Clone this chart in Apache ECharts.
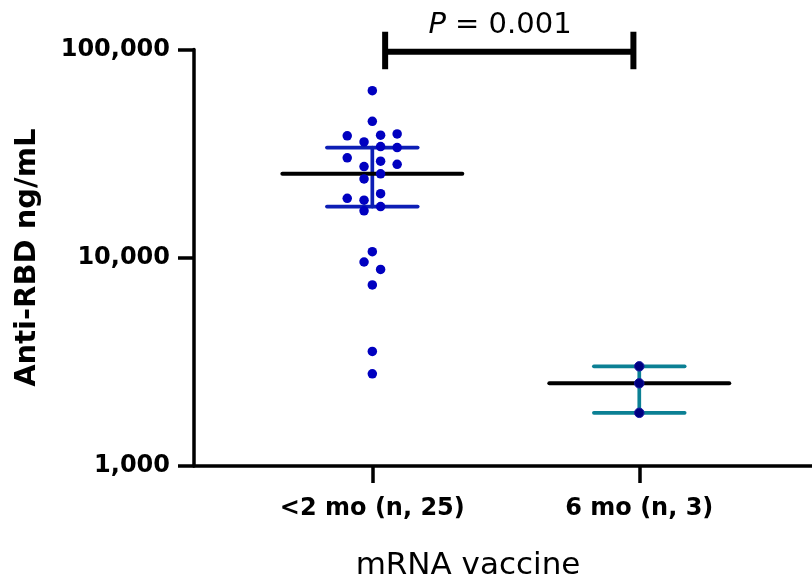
<!DOCTYPE html>
<html>
<head>
<meta charset="utf-8">
<script src="https://cdn.jsdelivr.net/npm/echarts@6/dist/echarts.min.js"></script>
<style>
html,body{margin:0;padding:0;background:#fff;}
#chart{width:812px;height:587px;}
</style>
</head>
<body>
<div id="chart"></div>
<script>
// ---- data ----
const categories = ['<2 mo (n, 25)', '6 mo (n, 3)'];
const categoryPos = [1, 2];
const yTicks = [1000, 10000, 100000];

// group 1: jittered x position (category units) and value
const group1X = [1.000, 1.000, 0.906, 1.031, 1.093, 0.969, 1.031, 1.093, 0.906, 1.031,
                 0.969, 1.093, 1.031, 0.969, 1.031, 0.906, 0.969, 1.031, 0.969, 1.000,
                 0.969, 1.031, 1.000, 1.000, 1.000];
const group1Y = [63400, 45200, 38500, 38800, 39300, 36000, 34200, 33800, 30200, 29100,
                 27400, 28100, 25300, 23900, 20300, 19300, 18900, 17600, 16800, 10700,
                 9540, 8790, 7400, 3550, 2770];
const group2X = [2.000, 2.000, 2.000];
const group2Y = [3010, 2495, 1800];

// summary statistics: centre, mean, lower, upper
const summaryCentre = [1, 2];
const summaryMean = [25300, 2495];
const summaryLower = [17600, 1800];
const summaryUpper = [33800, 3010];

// significance bracket
const bracketX = [1.048, 1.978];
const bracketY = 97600;
const bracketCapLow = 80400;
const bracketCapHigh = 121700;
const pText = 'P = 0.001';

// ---- chart ----
const FONT = 'DejaVu Sans';
const barColors = ['#0d1eb5', '#0b8094'];

const chart = echarts.init(document.getElementById('chart'), null, {renderer: 'canvas'});

const summaryData = summaryCentre.map((c, i) => [c, summaryMean[i], summaryLower[i], summaryUpper[i], i]);

function renderSummary(params, api) {
  const x = api.value(0), m = api.value(1), lo = api.value(2), hi = api.value(3);
  const idx = api.value(4);
  const col = barColors[idx];
  const capHW = 0.17, meanHW = 0.337;
  const pLo = api.coord([x, lo]), pHi = api.coord([x, hi]);
  const cL1 = api.coord([x - capHW, lo]), cR1 = api.coord([x + capHW, lo]);
  const cL2 = api.coord([x - capHW, hi]), cR2 = api.coord([x + capHW, hi]);
  const mL = api.coord([x - meanHW, m]), mR = api.coord([x + meanHW, m]);
  const st = {stroke: col, lineWidth: 3.7, lineCap: 'round'};
  return {
    type: 'group',
    children: [
      {type: 'line', shape: {x1: pLo[0], y1: pLo[1], x2: pHi[0], y2: pHi[1]}, style: st},
      {type: 'line', shape: {x1: cL1[0], y1: cL1[1], x2: cR1[0], y2: cR1[1]}, style: st},
      {type: 'line', shape: {x1: cL2[0], y1: cL2[1], x2: cR2[0], y2: cR2[1]}, style: st},
      {type: 'line', shape: {x1: mL[0], y1: mL[1], x2: mR[0], y2: mR[1]},
       style: {stroke: '#000', lineWidth: 4, lineCap: 'round'}}
    ]
  };
}

function renderBracket(params, api) {
  const a = api.coord([bracketX[0], bracketY]);
  const b = api.coord([bracketX[1], bracketY]);
  const aT = api.coord([bracketX[0], bracketCapHigh]), aB = api.coord([bracketX[0], bracketCapLow]);
  const bT = api.coord([bracketX[1], bracketCapHigh]), bB = api.coord([bracketX[1], bracketCapLow]);
  const st = {stroke: '#000', lineWidth: 6, lineCap: 'butt'};
  return {
    type: 'group',
    children: [
      {type: 'line', shape: {x1: a[0], y1: a[1], x2: b[0], y2: b[1]}, style: st},
      {type: 'line', shape: {x1: aT[0], y1: aT[1], x2: aB[0], y2: aB[1]}, style: st},
      {type: 'line', shape: {x1: bT[0], y1: bT[1], x2: bB[0], y2: bB[1]}, style: st}
    ]
  };
}

const option = {
  backgroundColor: '#fff',
  animation: false,
  grid: {left: 194, right: 0, top: 49.5, bottom: 121, containLabel: false},
  xAxis: {
    type: 'value',
    min: 0.332,
    max: 2.647,
    splitLine: {show: false},
    axisLine: {show: true, onZero: false, lineStyle: {color: '#000', width: 3.5}},
    axisTick: {show: true, customValues: categoryPos, length: 17, lineStyle: {color: '#000', width: 3.5}},
    axisLabel: {
      show: true, customValues: categoryPos, margin: 31,
      formatter: v => categories[Math.round(v) - 1],
      color: '#000', fontFamily: FONT, fontWeight: 'bold', fontSize: 24
    },
    name: 'mRNA vaccine',
    nameLocation: 'middle',
    nameGap: 84,
    nameTextStyle: {color: '#000', fontFamily: FONT, fontSize: 31, padding: [0, 70, 0, 0]}
  },
  yAxis: {
    type: 'log',
    logBase: 10,
    min: yTicks[0],
    max: yTicks[yTicks.length - 1],
    splitLine: {show: false},
    minorTick: {show: false},
    axisLine: {show: true, onZero: false, lineStyle: {color: '#000', width: 3.5}},
    axisTick: {show: true, length: 16, lineStyle: {color: '#000', width: 3.5}},
    axisLabel: {
      margin: 24,
      formatter: v => Math.round(v).toLocaleString('en-US'),
      color: '#000', fontFamily: FONT, fontWeight: 'bold', fontSize: 24
    },
    name: 'Anti-RBD ng/mL',
    nameLocation: 'middle',
    nameGap: 152,
    nameTextStyle: {color: '#000', fontFamily: FONT, fontWeight: 'bold', fontSize: 29}
  },
  graphic: [{
    type: 'text',
    x: 500, y: 25,
    style: {
      text: '{i|P} = 0.001',
      rich: {i: {fontStyle: 'italic', fontFamily: FONT, fontSize: 29, fill: '#000'}},
      fontFamily: FONT, fontSize: 29, fill: '#000',
      align: 'center', verticalAlign: 'middle'
    }
  }],
  series: [
    {type: 'custom', renderItem: renderSummary, data: summaryData, z: 2, clip: false},
    {type: 'custom', renderItem: renderBracket, data: [[bracketX[0], bracketY]], z: 2, clip: false},
    {
      type: 'scatter', z: 5,
      data: group1X.map((x, i) => [x, group1Y[i]]),
      symbol: 'circle', symbolSize: 9.5,
      itemStyle: {color: '#0000c0', opacity: 1}
    },
    {
      type: 'scatter', z: 5,
      data: group2X.map((x, i) => [x, group2Y[i]]),
      symbol: 'circle', symbolSize: 9.5,
      itemStyle: {color: '#000080', borderColor: '#1a1aa6', borderWidth: 1, opacity: 1}
    }
  ]
};
chart.setOption(option);
</script>
</body>
</html>
